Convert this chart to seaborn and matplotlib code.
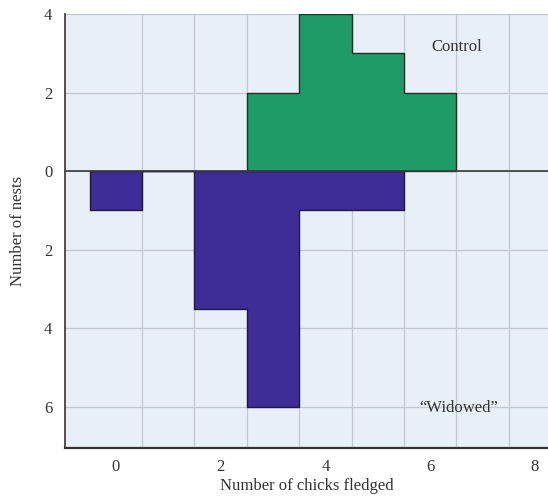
import numpy as np
import pandas as pd
import matplotlib
matplotlib.use("Agg")
import matplotlib.pyplot as plt
import seaborn as sns

# chicks fledged per nest (bin centres) and number of nests
control_chicks = [3, 4, 5, 6]
control_nests = [2, 4, 3, 2]
widowed_chicks = [0, 1, 2, 3, 4, 5]
widowed_nests = [1, 0, 3.5, 6, 1, 1]

xtick_vals = [0, 2, 4, 6, 8]
ytick_vals = [4, 2, 0, -2, -4, -6]
ytick_labels = ["4", "2", "0", "2", "4", "6"]

green = "#1f9b68"
purple = "#3e2c97"
bg = "#e9eff7"
gridc = "#c3c8d0"

sns.set_style("white")
plt.rcParams["font.family"] = ["Liberation Serif", "DejaVu Serif"]

fig = plt.figure(figsize=(5.48, 4.96), dpi=100)
ax = fig.add_axes([0.1186, 0.0968, 0.8814, 0.875])
ax.set_facecolor(bg)

df_c = pd.DataFrame({"chicks": control_chicks, "nests": control_nests})
df_w = pd.DataFrame({"chicks": widowed_chicks, "nests": [-v for v in widowed_nests]})

sns.histplot(data=df_c, x="chicks", weights="nests", discrete=True, element="step",
             fill=True, color=green, alpha=1, edgecolor="#243028", linewidth=1.0,
             ax=ax, zorder=3)
sns.histplot(data=df_w, x="chicks", weights="nests", discrete=True, element="step",
             fill=True, color=purple, alpha=1, edgecolor="#221a40", linewidth=1.0,
             ax=ax, zorder=3)

ax.set_xlim(-0.97, 8.25)
ax.set_ylim(-7.05, 4)

ax.set_xticks(xtick_vals)
ax.set_xticks(np.arange(0.5, 8, 1), minor=True)
ax.set_yticks(ytick_vals)
ax.set_yticklabels(ytick_labels)
ax.tick_params(axis="x", which="major", length=0, pad=8, labelsize=12, labelcolor="#333333")
ax.tick_params(axis="x", which="minor", direction="in", length=6, width=1.2, color="#333333")
ax.tick_params(axis="y", which="major", direction="in", length=7, width=1.2, color="#333333",
               pad=9, labelsize=12, labelcolor="#333333")

ax.grid(False)
ax.grid(True, which="minor", axis="x", color=gridc, lw=0.9, zorder=0)
ax.grid(True, which="major", axis="y", color=gridc, lw=0.9, zorder=0)
ax.set_axisbelow(True)
ax.axhline(0, color="#3a3a3a", lw=1.2, zorder=4)

for side in ["top", "right"]:
    ax.spines[side].set_visible(False)
ax.spines["left"].set_color("#333333")
ax.spines["left"].set_linewidth(1.2)
ax.spines["bottom"].set_color("#333333")
ax.spines["bottom"].set_linewidth(1.6)

ax.set_ylabel("Number of nests", fontsize=12, color="#333333")
ax.yaxis.set_label_coords(-0.08, 0.5)
ax.set_xlabel("Number of chicks fledged", fontsize=12, color="#333333")
ax.xaxis.set_label_coords(0.5, -0.07)

ax.text(6.5, 3.15, "Control", ha="center", va="center", fontsize=12, color="#333333", zorder=5)
ax.text(6.55, -6.03, "\u201cWidowed\u201d", ha="center", va="center", fontsize=12,
        color="#333333", zorder=5)

fig.savefig("out.png", dpi=100)
